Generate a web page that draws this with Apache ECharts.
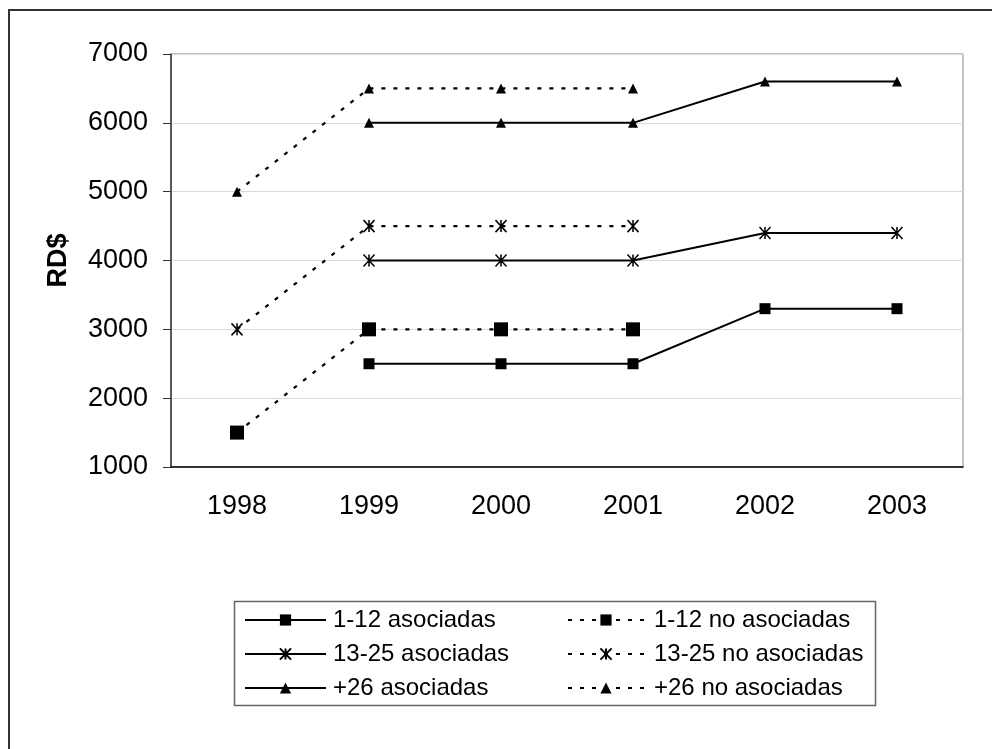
<!DOCTYPE html>
<html>
<head>
<meta charset="utf-8">
<script src="https://cdn.jsdelivr.net/npm/echarts@6/dist/echarts.min.js"></script>
<style>
  html, body { margin: 0; padding: 0; background: #fff; }
  #chart { width: 992px; height: 749px; }
</style>
</head>
<body>
<div id="chart"></div>
<script>
// Years on the category axis
const years = ['1998', '1999', '2000', '2001', '2002', '2003'];

// Monthly amounts (RD$) per group
const asoc_1_12    = [null, 2500, 2500, 2500, 3300, 3300];
const noAsoc_1_12  = [1500, 3000, 3000, 3000, null, null];
const asoc_13_25   = [null, 4000, 4000, 4000, 4400, 4400];
const noAsoc_13_25 = [3000, 4500, 4500, 4500, null, null];
const asoc_26      = [null, 6000, 6000, 6000, 6600, 6600];
const noAsoc_26    = [5000, 6500, 6500, 6500, null, null];

// Value-axis range
const yMin = 1000, yMax = 7000, yStep = 1000;

const FONT = '"Liberation Sans", Arial, sans-serif';
const ASTERISK = 'path://M5 0L5 10M0 0L10 10M0 10L10 0';

function markerStyle(symbol) {
  return symbol === ASTERISK
    ? { color: '#000', borderColor: '#000', borderWidth: 1.6 }
    : { color: '#000' };
}
function solid(name, data, symbol, size) {
  return {
    name, type: 'line', data, symbol, symbolSize: size,
    lineStyle: { color: '#000', width: 2, type: 'solid' },
    itemStyle: markerStyle(symbol),
    emphasis: { disabled: true }
  };
}
function dotted(name, data, symbol, size) {
  return {
    name, type: 'line', data, symbol, symbolSize: size,
    lineStyle: { color: '#000', width: 2.2, type: [4, 8] },
    itemStyle: markerStyle(symbol),
    emphasis: { disabled: true }
  };
}

const chart = echarts.init(document.getElementById('chart'));
chart.setOption({
  animation: false,
  backgroundColor: '#fff',
  textStyle: { fontFamily: FONT },
  grid: {
    left: 171, right: 29, top: 54, bottom: 282,
    show: true, borderColor: '#888', borderWidth: 1
  },
  xAxis: {
    type: 'category',
    data: years,
    boundaryGap: true,
    axisLine: { lineStyle: { color: '#000', width: 1.5 } },
    axisTick: { length: 8, lineStyle: { color: '#000' } },
    axisLabel: { color: '#000', fontSize: 27, margin: 26, fontFamily: FONT }
  },
  yAxis: {
    type: 'value',
    min: yMin, max: yMax, interval: yStep,
    name: 'RD$',
    nameLocation: 'middle',
    nameRotate: 90,
    nameGap: 99,
    nameTextStyle: { color: '#000', fontSize: 27, fontWeight: 'bold', fontFamily: FONT },
    axisLine: { show: true, lineStyle: { color: '#333', width: 1.5 } },
    axisTick: { show: true, length: 8, lineStyle: { color: '#333' } },
    axisLabel: { color: '#000', fontSize: 27, margin: 23, fontFamily: FONT, formatter: v => String(v) },
    splitLine: { lineStyle: { color: '#d9d9d9', width: 1 } }
  },
  legend: [
    {
      orient: 'vertical',
      left: 239, top: 603,
      itemWidth: 81, itemHeight: 14, itemGap: 10,
      data: ['1-12 asociadas', '13-25 asociadas', '+26 asociadas'],
      textStyle: { color: '#000', fontSize: 24, fontFamily: FONT, padding: [0, 0, 0, 2] },
      selectedMode: false
    },
    {
      orient: 'vertical',
      left: 562, top: 603,
      itemWidth: 76, itemHeight: 14, itemGap: 10,
      data: ['1-12 no asociadas', '13-25 no asociadas', '+26 no asociadas'],
      textStyle: { color: '#000', fontSize: 24, fontFamily: FONT, padding: [0, 0, 0, 5] },
      selectedMode: false
    }
  ],
  graphic: [
    {
      type: 'rect', silent: true, z: -1,
      shape: { x: 9, y: 10, width: 1100, height: 1000 },
      style: { fill: 'none', stroke: '#333', lineWidth: 2 }
    },
    {
      type: 'rect', silent: true,
      shape: { x: 234.5, y: 601.5, width: 641, height: 104 },
      style: { fill: 'none', stroke: '#666', lineWidth: 1.5 }
    }
  ],
  series: [
    solid('1-12 asociadas', asoc_1_12, 'rect', 11),
    dotted('1-12 no asociadas', noAsoc_1_12, 'rect', 14),
    solid('13-25 asociadas', asoc_13_25, ASTERISK, [11, 12]),
    dotted('13-25 no asociadas', noAsoc_13_25, ASTERISK, [11, 12]),
    solid('+26 asociadas', asoc_26, 'triangle', 10),
    dotted('+26 no asociadas', noAsoc_26, 'triangle', 10)
  ]
});
</script>
</body>
</html>
